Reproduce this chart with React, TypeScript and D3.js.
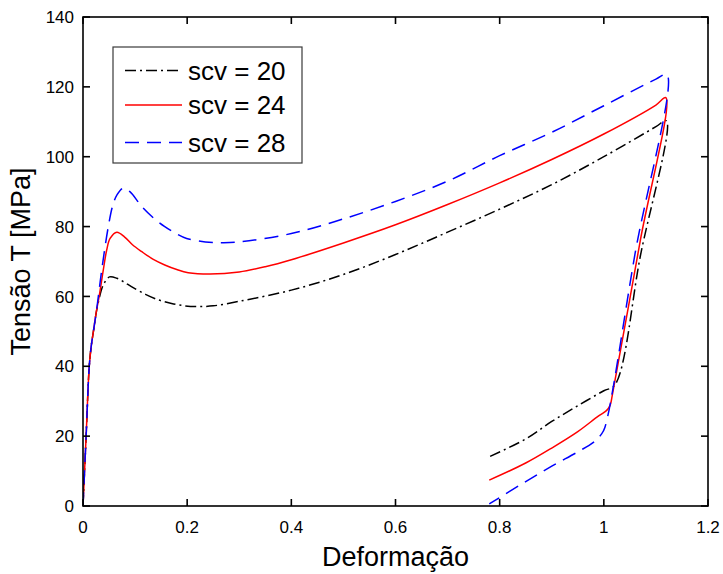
import React from "react";
import * as d3 from "d3";

// ---- data ----
const xTicks = [0, 0.2, 0.4, 0.6, 0.8, 1, 1.2];
const yTicks = [0, 20, 40, 60, 80, 100, 120, 140];
const seriesNames = ["scv = 20", "scv = 24", "scv = 28"];

const strain20 = [0, 0.006, 0.012, 0.016, 0.02, 0.025, 0.029, 0.039, 0.051, 0.065, 0.08, 0.093, 0.12, 0.145, 0.17, 0.196, 0.22, 0.25, 0.3, 0.4, 0.5, 0.6, 0.7, 0.8, 0.9, 1.0, 1.1, 1.12, 1.07, 1.021, 1.0, 0.95, 0.9, 0.85, 0.78];
const stress20 = [0, 20, 40, 46, 50, 55, 58, 63.3, 65.6, 65.2, 64, 62.8, 60.6, 59, 58, 57.3, 57.1, 57.3, 58.6, 61.8, 66.3, 72, 78.4, 85, 92, 100, 108.6, 110.3, 71.5, 34.6, 33, 28.7, 24.2, 19.2, 14.1];

const strain24 = [0, 0.006, 0.012, 0.016, 0.02, 0.026, 0.031, 0.039, 0.0455, 0.052, 0.065, 0.08, 0.095, 0.113, 0.135, 0.157, 0.18, 0.202, 0.244, 0.3, 0.35, 0.4, 0.5, 0.6, 0.7, 0.8, 0.9, 1.0, 1.1, 1.119, 1.07, 1.016, 1.012, 1.005, 0.99, 0.95, 0.9, 0.85, 0.78];
const stress24 = [0, 20, 40, 46, 50, 56, 60, 67.6, 73.3, 76.6, 78.4, 77, 74.8, 72.8, 70.6, 69, 67.7, 66.8, 66.4, 67, 68.5, 70.5, 75.3, 80.5, 86.3, 92.5, 99.2, 106.5, 114.8, 116.9, 76, 31.5, 28.8, 27.3, 25.8, 21.3, 16.6, 12.3, 7.4];

const strain28 = [0, 0.006, 0.012, 0.016, 0.02, 0.026, 0.036, 0.0486, 0.057, 0.065, 0.077, 0.09, 0.113, 0.135, 0.157, 0.18, 0.199, 0.235, 0.269, 0.3, 0.4, 0.5, 0.6, 0.7, 0.8, 0.9, 1.0, 1.1, 1.121, 1.06, 1.002, 0.995, 0.98, 0.95, 0.9, 0.85, 0.78];
const stress28 = [0, 20, 40, 46, 50, 56, 67.6, 80, 86, 89, 91, 90, 85.7, 82.5, 80, 77.9, 76.6, 75.6, 75.4, 75.6, 78, 82.2, 87.2, 93, 100.3, 107, 114.6, 122.2, 123.5, 72.3, 22.5, 20.5, 18.2, 15.5, 11.4, 7, 0.6];

const W = 723;
const H = 574;
const M = { left: 83, right: 708, top: 17, bottom: 506 };
const FONT = "Liberation Sans, Arial, Helvetica, sans-serif";

const styles = [
  { color: "#000000", dash: "11,4,2,4" },
  { color: "#ff0000", dash: "none" },
  { color: "#0000ff", dash: "14,8" },
];

export default function App() {
  const x = d3.scaleLinear().domain([0, 1.2]).range([M.left, M.right]);
  const y = d3.scaleLinear().domain([0, 140]).range([M.bottom, M.top]);

  const series = [
    { xs: strain20, ys: stress20 },
    { xs: strain24, ys: stress24 },
    { xs: strain28, ys: stress28 },
  ];

  const line = d3
    .line<[number, number]>()
    .x((d) => x(d[0]))
    .y((d) => y(d[1]))
    .curve(d3.curveCatmullRom.alpha(0.5));

  const tickLen = 7;

  const legend = { x: 113, y: 47, w: 189, h: 116 };
  const legendRows = [70.5, 105, 142.5];

  return (
    <svg
      width={W}
      height={H}
      style={{ position: "absolute", left: 0, top: 0, background: "#fff" }}
      fontFamily={FONT}
    >
      <rect x={0} y={0} width={W} height={H} fill="#fff" />
      <defs>
        <clipPath id="plotclip">
          <rect x={M.left} y={M.top} width={M.right - M.left} height={M.bottom - M.top} />
        </clipPath>
      </defs>

      {/* curves */}
      <g clipPath="url(#plotclip)">
        {series.map((s, i) => (
          <path
            key={i}
            d={line(s.xs.map((v, k) => [v, s.ys[k]] as [number, number])) || ""}
            fill="none"
            stroke={styles[i].color}
            strokeWidth={1.5}
            strokeDasharray={styles[i].dash}
            strokeLinejoin="round"
          />
        ))}
      </g>

      {/* frame */}
      <rect
        x={M.left}
        y={M.top}
        width={M.right - M.left}
        height={M.bottom - M.top}
        fill="none"
        stroke="#000"
        strokeWidth={1.6}
      />

      {/* x ticks */}
      {xTicks.map((t) => (
        <g key={"x" + t}>
          <line x1={x(t)} x2={x(t)} y1={M.bottom} y2={M.bottom - tickLen} stroke="#000" strokeWidth={1.6} />
          <line x1={x(t)} x2={x(t)} y1={M.top} y2={M.top + tickLen} stroke="#000" strokeWidth={1.6} />
          <text x={x(t)} y={533} textAnchor="middle" fontSize={17} fill="#000">
            {String(t)}
          </text>
        </g>
      ))}

      {/* y ticks */}
      {yTicks.map((t) => (
        <g key={"y" + t}>
          <line x1={M.left} x2={M.left + tickLen} y1={y(t)} y2={y(t)} stroke="#000" strokeWidth={1.6} />
          <line x1={M.right} x2={M.right - tickLen} y1={y(t)} y2={y(t)} stroke="#000" strokeWidth={1.6} />
          <text x={74} y={y(t)} dy="0.36em" textAnchor="end" fontSize={17} fill="#000">
            {String(t)}
          </text>
        </g>
      ))}

      {/* axis labels */}
      <text x={(M.left + M.right) / 2} y={566} textAnchor="middle" fontSize={27} fill="#000">
        Deformação
      </text>
      <text
        transform={`translate(30, ${(M.top + M.bottom) / 2}) rotate(-90)`}
        textAnchor="middle"
        fontSize={27}
        fill="#000"
      >
        Tensão T [MPa]
      </text>

      {/* legend */}
      <rect x={legend.x} y={legend.y} width={legend.w} height={legend.h} fill="#fff" stroke="#3a3a3a" strokeWidth={1.2} />
      {seriesNames.map((n, i) => (
        <g key={n}>
          <line
            x1={125}
            x2={182}
            y1={legendRows[i]}
            y2={legendRows[i]}
            stroke={styles[i].color}
            strokeWidth={1.5}
            strokeDasharray={styles[i].dash}
          />
          <text x={188} y={legendRows[i]} dy="0.36em" fontSize={26} fill="#000">
            {n}
          </text>
        </g>
      ))}
    </svg>
  );
}
